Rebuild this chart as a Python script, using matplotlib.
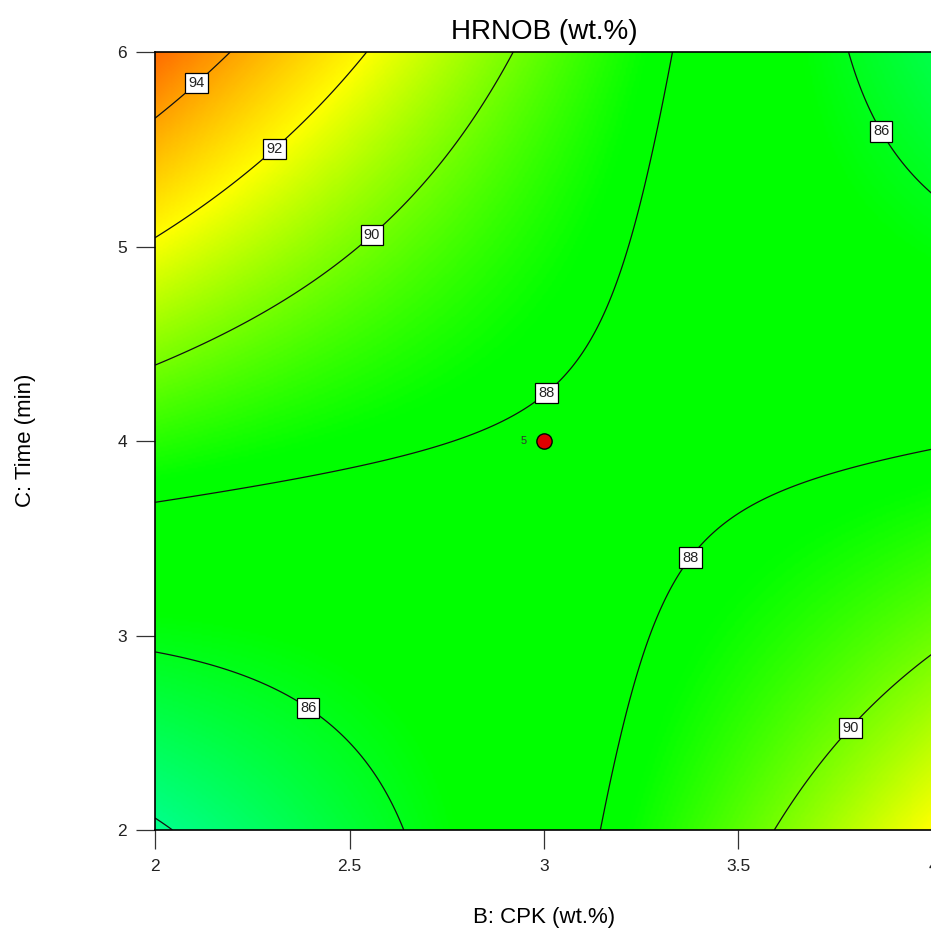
import numpy as np
import matplotlib
matplotlib.use("Agg")
import matplotlib.pyplot as plt
from matplotlib.colors import LinearSegmentedColormap

# ---- data -------------------------------------------------------------
# Fitted quadratic response-surface coefficients (coded units:
# xB = B - 3, xC = (C - 4) / 2)
intercept = 87.861
coef_B = -0.473
coef_C = 1.1004
coef_BC = -4.5475
coef_B2 = 0.5405
coef_C2 = 0.6378

B_range = [2.0, 4.0]
C_range = [2.0, 6.0]
contour_levels = [84, 86, 88, 90, 92, 94]

# design point (center) and its replicate count
design_B = [3.0]
design_C = [4.0]
design_reps = ["5"]

x_ticks = [2, 2.5, 3, 3.5, 4]
x_ticklabels = ["2", "2.5", "3", "3.5", "4"]
y_ticks = [2, 3, 4, 5, 6]
y_ticklabels = ["2", "3", "4", "5", "6"]

title = "HRNOB (wt.%)"
xlabel = "B: CPK (wt.%)"
ylabel = "C: Time (min)"

# ---- style ------------------------------------------------------------
plt.rcParams["font.family"] = ["Liberation Sans", "DejaVu Sans"]

W, H = 931, 933
fig = plt.figure(figsize=(W / 100, H / 100), dpi=100)
ax = fig.add_axes([155 / W, 1 - 830 / H, 778 / W, 778 / H])

Bg = np.linspace(B_range[0], B_range[1], 400)
Cg = np.linspace(C_range[0], C_range[1], 400)
BB, CC = np.meshgrid(Bg, Cg)
xb = BB - 3.0
xc = (CC - 4.0) / 2.0
Z = (intercept + coef_B * xb + coef_C * xc + coef_BC * xb * xc
     + coef_B2 * xb ** 2 + coef_C2 * xc ** 2)

# Design-Expert-like colour ramp (value anchored)
vmin, vmax = 80.0, 97.0
anchors = [
    (80.0, (0.0, 0.75, 1.0)),
    (81.5, (0.0, 1.0, 1.0)),
    (84.0, (0.0, 1.0, 0.52)),
    (86.5, (0.0, 1.0, 0.0)),
    (88.3, (0.0, 1.0, 0.0)),
    (92.0, (1.0, 1.0, 0.0)),
    (95.2, (1.0, 0.42, 0.0)),
    (97.0, (1.0, 0.1, 0.0)),
]
cmap = LinearSegmentedColormap.from_list(
    "de", [((v - vmin) / (vmax - vmin), c) for v, c in anchors])

ax.imshow(Z, origin="lower", extent=[B_range[0], B_range[1], C_range[0], C_range[1]],
          cmap=cmap, vmin=vmin, vmax=vmax, aspect="auto", interpolation="bilinear")
cs = ax.contour(BB, CC, Z, levels=contour_levels, colors="#111111", linewidths=0.9)

label_spots = [(2.10, 5.856), (2.30, 5.517), (2.55, 5.075), (3.005, 4.247),
               (3.35, 3.44), (2.40, 2.648), (3.874, 5.60), (3.776, 2.545)]
texts = ax.clabel(cs, inline=False, fmt="%d",
                  fontsize=10.5, colors="black", manual=label_spots)
for t in texts:
    t.set_rotation(0)
    t.set_fontsize(10.5)
    t.set_color("#222222")
    t.set_bbox(dict(boxstyle="square,pad=0.22", facecolor="white",
                    edgecolor="black", linewidth=0.9))
    t.set_zorder(6)

ax.plot(design_B, design_C, "o", color="#dd0000", markeredgecolor="black",
        markersize=11, markeredgewidth=1.0, zorder=7, clip_on=False)
for b, c, r in zip(design_B, design_C, design_reps):
    ax.annotate(r, (b, c), xytext=(-15, 0), textcoords="offset points",
                fontsize=8, color="#333333", ha="center", va="center")

ax.set_xlim(B_range)
ax.set_ylim(C_range)
ax.set_xticks(x_ticks)
ax.set_xticklabels(x_ticklabels)
ax.set_yticks(y_ticks)
ax.set_yticklabels(y_ticklabels)
ax.tick_params(axis="both", direction="out", length=14, width=0.9,
               color="#333333", labelsize=12.5, labelcolor="#222222")
ax.tick_params(axis="x", pad=7)
ax.tick_params(axis="y", pad=6)
for s in ax.spines.values():
    s.set_linewidth(1.2)
    s.set_color("black")

fig.text(544 / W, 1 - 32 / H, title, ha="center", va="center", fontsize=20)
fig.text(544 / W, 1 - 918 / H, xlabel, ha="center", va="center", fontsize=16)
fig.text(25 / W, 1 - 440 / H, ylabel, ha="center", va="center", fontsize=16,
         rotation=90)

fig.savefig("out.png", dpi=100)
